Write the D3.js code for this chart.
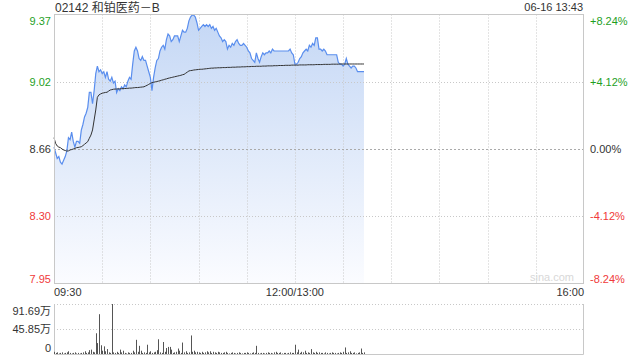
<!DOCTYPE html>
<html>
<head>
<meta charset="utf-8">
<script src="https://cdnjs.cloudflare.com/ajax/libs/d3/7.8.5/d3.min.js"></script>
<style>
  html, body { margin: 0; padding: 0; background: #fff; }
  svg { display: block; }
  text { font-family: Arial, "Liberation Sans", "Noto Sans CJK SC", sans-serif; }
</style>
</head>
<body>
<svg width="640" height="360"></svg>
<script>
var title = '02142 和铂医药－B'
  , stamp = '06-16 13:43'
  , preClose = 8.66
  , pctTicks = [8.24, 4.12, 0, -4.12, -8.24]
  , volTicks = [91.69, 45.85, 0]
  , timeTicks = ['09:30', '12:00/13:00', '16:00']
  , timeTickMin = [0, 150, 330]
  ;

// one value per trading minute from 09:30
var prices = [
  8.67, 8.64, 8.61, 8.62, 8.59, 8.58, 8.60, 8.62, 8.65, 8.72,
  8.71, 8.75, 8.70, 8.67, 8.70, 8.70, 8.69, 8.76, 8.79, 8.83,
  8.85, 8.88, 8.96, 8.96, 8.90, 8.97, 9.06, 9.10, 9.07, 9.08,
  9.06, 9.07, 9.04, 9.07, 9.03, 9.02, 9.04, 9.01, 9.02, 8.96,
  8.98, 8.97, 8.99, 8.98, 9.00, 8.99, 9.02, 9.04, 9.03, 9.11,
  9.18, 9.20, 9.18, 9.14, 9.13, 9.15, 9.13, 9.13, 9.10, 9.07,
  9.04, 8.97, 9.04, 9.09, 9.13, 9.14, 9.18, 9.20, 9.21, 9.19,
  9.24, 9.27, 9.26, 9.23, 9.24, 9.26, 9.26, 9.26, 9.23, 9.26,
  9.29, 9.28, 9.28, 9.30, 9.34, 9.36, 9.37, 9.37, 9.36, 9.33,
  9.29, 9.30, 9.31, 9.32, 9.31, 9.32, 9.31, 9.32, 9.30, 9.31,
  9.29, 9.30, 9.28, 9.26, 9.25, 9.23, 9.24, 9.23, 9.19, 9.21,
  9.20, 9.22, 9.21, 9.23, 9.24, 9.22, 9.21, 9.21, 9.22, 9.21,
  9.20, 9.18, 9.17, 9.14, 9.13, 9.12, 9.17, 9.14, 9.12, 9.15,
  9.17, 9.16, 9.17, 9.17, 9.18, 9.17, 9.19, 9.18, 9.18, 9.18,
  9.18, 9.18, 9.18, 9.18, 9.18, 9.18, 9.18, 9.19, 9.17, 9.16,
  9.11, 9.11, 9.12, 9.14, 9.15, 9.17, 9.18, 9.19, 9.18, 9.21,
  9.20, 9.22, 9.21, 9.25, 9.25, 9.19, 9.19, 9.18, 9.19, 9.18,
  9.16, 9.16, 9.16, 9.16, 9.16, 9.16, 9.16, 9.12, 9.11, 9.11,
  9.10, 9.11, 9.14, 9.11, 9.10, 9.09, 9.10, 9.10, 9.09, 9.07,
  9.07, 9.07, 9.07, 9.07
];

var avgPrices = [
  8.720, 8.690, 8.676, 8.670, 8.667, 8.660, 8.655, 8.652, 8.649, 8.650,
  8.655, 8.657, 8.660, 8.663, 8.667, 8.668, 8.670, 8.672, 8.678, 8.685,
  8.692, 8.699, 8.717, 8.734, 8.761, 8.814, 8.867, 8.934, 8.947, 8.952,
  8.956, 8.958, 8.960, 8.961, 8.967, 8.973, 8.975, 8.977, 8.978, 8.978,
  8.979, 8.979, 8.980, 8.980, 8.981, 8.981, 8.982, 8.983, 8.983, 8.984,
  8.985, 8.986, 8.986, 8.987, 8.988, 8.989, 8.990, 8.994, 8.998, 9.003,
  9.008, 9.012, 9.014, 9.016, 9.018, 9.020, 9.022, 9.025, 9.027, 9.030,
  9.032, 9.035, 9.037, 9.039, 9.041, 9.043, 9.045, 9.047, 9.049, 9.051,
  9.054, 9.056, 9.062, 9.068, 9.074, 9.076, 9.077, 9.079, 9.080, 9.081,
  9.082, 9.083, 9.083, 9.084, 9.085, 9.086, 9.087, 9.088, 9.089, 9.089,
  9.090, 9.090, 9.091, 9.091, 9.091, 9.092, 9.092, 9.092, 9.093, 9.093,
  9.093, 9.094, 9.094, 9.094, 9.095, 9.095, 9.095, 9.096, 9.096, 9.096,
  9.097, 9.097, 9.097, 9.098, 9.098, 9.098, 9.099, 9.099, 9.099, 9.099,
  9.100, 9.100, 9.100, 9.101, 9.101, 9.101, 9.101, 9.102, 9.102, 9.102,
  9.103, 9.103, 9.103, 9.103, 9.104, 9.104, 9.104, 9.104, 9.105, 9.105,
  9.105, 9.105, 9.105, 9.106, 9.106, 9.106, 9.106, 9.106, 9.107, 9.107,
  9.107, 9.107, 9.107, 9.108, 9.108, 9.108, 9.108, 9.108, 9.109, 9.109,
  9.109, 9.109, 9.109, 9.110, 9.110, 9.110, 9.110, 9.110, 9.111, 9.111,
  9.111, 9.111, 9.111, 9.111, 9.111, 9.111, 9.111, 9.111, 9.111, 9.111,
  9.111, 9.111, 9.111, 9.111
];

// volume, unit 万
var volumes = [
  4, 2, 3, 1, 2, 3, 1, 2, 3, 5,
  2, 1, 2, 3, 1, 2, 1, 2, 3, 5,
  2, 3, 7, 8, 4, 3, 38, 20, 73, 16,
  6, 14, 5, 9, 3, 2, 91.69, 3, 2, 4,
  2, 8, 3, 6, 2, 1, 3, 2, 2, 6,
  3, 26, 4, 15, 6, 2, 3, 2, 17, 3,
  5, 2, 3, 4, 7, 27, 3, 2, 22, 4,
  11, 13, 13, 8, 2, 3, 4, 10, 6, 2,
  21, 3, 5, 2, 3, 34, 4, 6, 3, 4,
  3, 2, 4, 2, 3, 5, 3, 5, 2, 4,
  3, 2, 4, 3, 2, 2, 3, 4, 2, 1,
  2, 3, 2, 1, 2, 3, 2, 1, 2, 2,
  3, 2, 1, 2, 3, 2, 15, 2, 1, 2,
  2, 1, 2, 3, 2, 2, 1, 3, 4, 2,
  2, 3, 1, 2, 2, 1, 2, 3, 2, 2,
  17, 3, 8, 2, 4, 3, 6, 2, 3, 2,
  9, 3, 2, 4, 2, 3, 2, 2, 1, 3,
  2, 1, 2, 3, 2, 2, 1, 2, 3, 2,
  4, 12, 2, 3, 5, 2, 2, 3, 1, 2,
  3, 10, 2, 3
];

(function (d3) {
  var svg = d3.select('svg')
    , left = 54, right = 584
    , pTop = 14.5, pBottom = 283.5
    , vTop = 304, vBottom = 354
    , green = '#1f9f1f', red = '#f03a3a', grid = '#c8c8c8'
    ;

  var x = d3.scaleLinear().domain([0, 330]).range([left, right]);
  var y = d3.scaleLinear()
    .domain([preClose * (1 - 0.0824), preClose * (1 + 0.0824)])
    .range([pBottom, pTop]);
  var yv = d3.scaleLinear().domain([0, d3.max(volTicks)]).range([vBottom, vTop]);

  function pctColor(p) { return p > 0 ? green : (p < 0 ? red : '#333'); }

  var grad = svg.append('defs').append('linearGradient')
    .attr('id', 'fillGrad')
    .attr('gradientUnits', 'userSpaceOnUse')
    .attr('x1', 0).attr('x2', 0)
    .attr('y1', pTop).attr('y2', pBottom);
  grad.append('stop').attr('offset', '0%').attr('stop-color', '#c4d7f5');
  grad.append('stop').attr('offset', '100%').attr('stop-color', '#fbfcff');

  // title row
  svg.append('text')
     .attr('x', 55).attr('y', 12)
     .attr('font-size', '12px').attr('fill', '#333')
     .text(title);
  svg.append('text')
     .attr('x', 583).attr('y', 11)
     .attr('text-anchor', 'end')
     .attr('font-size', '11px').attr('fill', '#333')
     .text(stamp);

  // area first, grid drawn over it
  var area = d3.area()
    .x(function (d, i) { return x(i); })
    .y0(pBottom)
    .y1(function (d) { return y(d); });
  svg.append('path').datum(prices)
     .attr('d', area).attr('fill', 'url(#fillGrad)');

  svg.selectAll('.vgrid').data(d3.range(30, 330, 30)).enter().append('line')
     .attr('x1', function (d) { return Math.round(x(d)) + 0.5; })
     .attr('x2', function (d) { return Math.round(x(d)) + 0.5; })
     .attr('y1', pTop).attr('y2', pBottom)
     .attr('stroke', grid).attr('stroke-dasharray', '1,2');

  svg.selectAll('.hgrid').data(pctTicks.slice(1, 4)).enter().append('line')
     .attr('x1', left).attr('x2', right)
     .attr('y1', function (d) { return Math.round(y(preClose * (1 + d / 100))) + 0.5; })
     .attr('y2', function (d) { return Math.round(y(preClose * (1 + d / 100))) + 0.5; })
     .attr('stroke', function (d) { return d === 0 ? '#aaa' : grid; })
     .attr('stroke-dasharray', function (d) { return d === 0 ? '2,2' : '1,2'; });

  var line = d3.line()
    .x(function (d, i) { return x(i); })
    .y(function (d) { return y(d); });
  svg.append('path').datum(prices)
     .attr('d', line).attr('fill', 'none')
     .attr('stroke', '#5a8eee').attr('stroke-width', 1.2);
  svg.append('path').datum(avgPrices)
     .attr('d', line).attr('fill', 'none')
     .attr('stroke', '#333').attr('stroke-width', 1);

  // box
  svg.append('rect')
     .attr('x', left + 0.5).attr('y', pTop)
     .attr('width', right - left - 1).attr('height', pBottom - pTop)
     .attr('fill', 'none').attr('stroke', grid);

  svg.append('text')
     .attr('x', 574).attr('y', 281)
     .attr('text-anchor', 'end')
     .attr('font-size', '11px').attr('fill', '#d8d8d8')
     .text('sina.com');

  // y labels
  pctTicks.forEach(function (p) {
    var v = preClose * (1 + p / 100)
      , yy = Math.min(Math.max(y(v), pTop + 6), pBottom - 5)
      ;
    svg.append('text')
       .attr('x', 51).attr('y', yy + 4)
       .attr('text-anchor', 'end')
       .attr('font-size', '11px').attr('fill', pctColor(p))
       .text(v.toFixed(2));
    svg.append('text')
       .attr('x', 590).attr('y', yy + 4)
       .attr('font-size', '11px').attr('fill', pctColor(p))
       .text((p > 0 ? '+' : '') + p.toFixed(2) + '%');
  });

  // time labels
  timeTicks.forEach(function (t, i) {
    svg.append('text')
       .attr('x', x(timeTickMin[i]))
       .attr('y', 296)
       .attr('text-anchor', i === 0 ? 'start' : (i === timeTicks.length - 1 ? 'end' : 'middle'))
       .attr('font-size', '11px').attr('fill', '#333')
       .text(t);
  });

  // volume panel
  svg.selectAll('.vline').data(volTicks.slice(0, 2)).enter().append('line')
     .attr('x1', left).attr('x2', right)
     .attr('y1', function (d) { return Math.round(yv(d)) + 0.5; })
     .attr('y2', function (d) { return Math.round(yv(d)) + 0.5; })
     .attr('stroke', grid).attr('stroke-dasharray', '1,2');
  svg.append('path')
     .attr('d', 'M' + (left + 0.5) + ',' + vTop + 'V' + (vBottom + 0.5) + 'H' + (right - 0.5) + 'V' + vTop)
     .attr('fill', 'none').attr('stroke', grid);

  svg.selectAll('.vbar').data(volumes).enter().append('line')
     .attr('x1', function (d, i) { return Math.round(x(i)) + 0.5; })
     .attr('x2', function (d, i) { return Math.round(x(i)) + 0.5; })
     .attr('y1', vBottom)
     .attr('y2', function (d) { return yv(d); })
     .attr('stroke', '#555').attr('stroke-width', 1);

  volTicks.forEach(function (v) {
    var yy = Math.min(Math.max(yv(v), vTop + 7), vBottom - 6);
    svg.append('text')
       .attr('x', 51).attr('y', yy + 4)
       .attr('text-anchor', 'end')
       .attr('font-size', '11px').attr('fill', '#333')
       .text(v === 0 ? '0' : v.toFixed(2) + '万');
  });
})(d3);
</script>
</body>
</html>
